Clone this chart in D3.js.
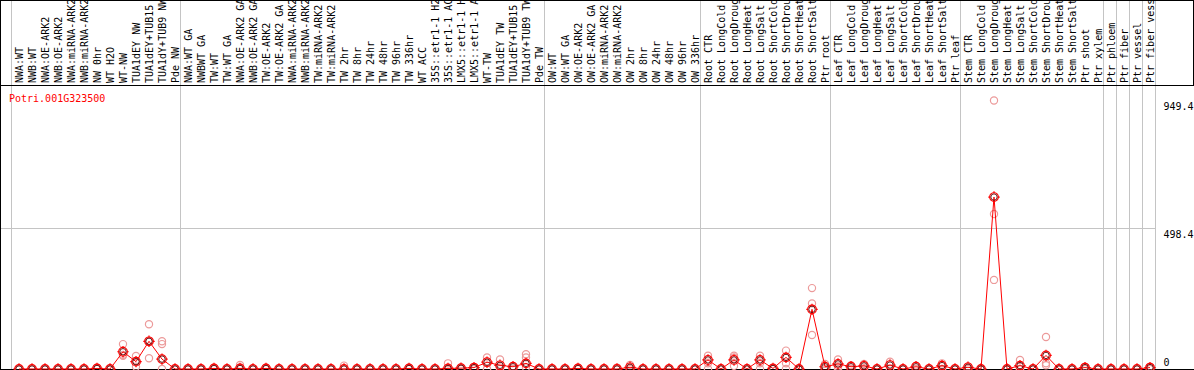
<!DOCTYPE html>
<html>
<head>
<meta charset="utf-8">
<script src="https://cdn.jsdelivr.net/npm/d3@7"></script>
<style>
  html, body { margin: 0; padding: 0; background: #fff; }
  svg { display: block; }
  text { font-family: "DejaVu Sans Mono", monospace; font-size: 10px; }
</style>
</head>
<body>
<script>
const categories = [
  "NWA:WT","NWB:WT","NWA:OE-ARK2","NWB:OE-ARK2","NWA:miRNA-ARK2","NWB:miRNA-ARK2","NW 0hr","WT H2O","WT-NW","TUA1dEY NW","TUA1dEY+TUB15 NW","TUA1dY+TUB9 NW","Pde NW",
  "NWA:WT GA","NWBWT GA","TW:WT","TW:WT GA","NWA:OE-ARK2 GA","NWB:OE-ARK2 GA","TW:OE-ARK2","TW:OE-ARK2 GA","NWA:miRNA-ARK2","NWB:miRNA-ARK2","TW:miRNA-ARK2","TW:miRNA-ARK2","TW 2hr","TW 8hr","TW 24hr","TW 48hr","TW 96hr","TW 336hr","WT ACC","35S::etr1-1 H2O","35S::etr1-1 ACC","LMX5::etr1-1 H2O","LMX5::etr1-1 ACC","WT-TW","TUA1dEY TW","TUA1dEY+TUB15 TW","TUA1dY+TUB9 TW","Pde TW",
  "OW:WT","OW:WT GA","OW:OE-ARK2","OW:OE-ARK2 GA","OW:miRNA-ARK2","OW:miRNA-ARK2","OW 2hr","OW 8hr","OW 24hr","OW 48hr","OW 96hr","OW 336hr",
  "Root CTR","Root LongCold","Root LongDrought","Root LongHeat","Root LongSalt","Root ShortCold","Root ShortDrought","Root ShortHeat","Root ShortSalt","Ptr root",
  "Leaf CTR","Leaf LongCold","Leaf LongDrought","Leaf LongHeat","Leaf LongSalt","Leaf ShortCold","Leaf ShortDrought","Leaf ShortHeat","Leaf ShortSalt","Ptr leaf",
  "Stem CTR","Stem LongCold","Stem LongDrought","Stem LongHeat","Stem LongSalt","Stem ShortCold","Stem ShortDrought","Stem ShortHeat","Stem ShortSalt","Ptr shoot","Ptr xylem",
  "Ptr phloem","Ptr fiber","Ptr vessel","Ptr fiber vessel"
];
// index where each group starts
const groupStarts = [0, 13, 41, 53, 63, 73, 84, 85, 86, 87, 88];

const geneName = "Potri.001G323500";

const mainValues = [
  0,0,0,0,0,0,2,0,61,26,98,35,0,
  0,0,2,0,2,0,2,0,0,0,0,0,0,0,0,0,0,2,0,0,2,3,5,24,13,8,20,0,
  0,0,2,0,0,0,6,0,0,0,0,0,
  32,0,32,0,32,2,41,0,211,8,
  18,8,11,0,14,0,8,0,12,0,
  6,0,608,0,12,0,48,0,0,5,0,
  0,0,0,5
];
const rep1 = [
  0,0,0,0,0,0,5,0,88,46,158,98,0,
  0,0,5,0,14,0,5,0,0,0,0,0,12,0,0,0,0,5,0,0,20,5,5,41,34,10,52,0,
  0,0,5,0,2,5,14,0,0,0,0,0,
  47,0,47,3,47,4,65,0,286,18,
  34,13,18,0,26,0,12,0,20,0,
  9,0,949.4,0,32,0,113,0,0,8,0,
  0,0,0,8
];
const rep2 = [
  0,0,0,0,0,0,2,0,47,8,38,88,0,
  0,0,0,0,5,0,0,0,0,0,0,0,0,0,0,0,0,0,0,0,0,0,0,0,5,0,41,0,
  0,0,0,0,0,0,0,0,0,0,0,0,
  20,0,41,0,20,0,20,0,232,0,
  8,0,3,0,0,0,0,0,0,0,
  0,0,548,0,0,0,20,0,0,0,0,
  0,0,0,0
];
const rep3 = [
  0,0,0,0,0,0,0,0,50,27,98,0,0,
  0,0,0,0,0,0,0,0,0,0,0,0,0,0,0,0,0,0,0,0,0,0,0,0,0,0,5,0,
  0,0,0,0,0,0,0,0,0,0,0,0,
  0,0,11,0,0,0,0,0,120,0,
  0,0,0,0,0,0,0,0,0,0,
  0,0,315,0,0,0,13,0,0,0,0,
  0,0,0,0
];
const axisTicks = [0, 498.4, 949.4];

const W = 1194, H = 370;
const svg = d3.select("body").append("svg").attr("width", W).attr("height", H);

const x = d3.scaleBand().domain(d3.range(categories.length)).range([11, 1155]).padding(0);
const cx = i => x(i) + x.bandwidth() / 2 + 1.5;
const y = d3.scaleLinear().domain([0, 949.4]).range([369, 100.5]);

const plotTop = 85, plotBottom = 369;

// horizontal gridline
svg.append("line").attr("x1", 0).attr("x2", x.range()[1]).attr("y1", Math.round(y(498.4)) + 0.5).attr("y2", Math.round(y(498.4)) + 0.5)
  .attr("stroke", "#c4c4c4");

// group separators
const sepX = d => (d >= categories.length ? x.range()[1] : x(d)) + 0.5;
svg.selectAll("line.sep").data(groupStarts).enter().append("line").attr("class", "sep")
  .attr("x1", sepX).attr("x2", sepX)
  .attr("y1", 0).attr("y2", plotBottom)
  .attr("stroke", "#c4c4c4");

// borders
const border = svg.append("g").attr("stroke", "#000").attr("stroke-width", 1);
border.append("line").attr("x1", 0).attr("x2", W).attr("y1", 0.5).attr("y2", 0.5);
border.append("line").attr("x1", 0).attr("x2", W).attr("y1", plotTop + 0.5).attr("y2", plotTop + 0.5);
border.append("line").attr("x1", 0).attr("x2", W).attr("y1", plotBottom + 0.5).attr("y2", plotBottom + 0.5);
border.append("line").attr("x1", 0.5).attr("x2", 0.5).attr("y1", 0).attr("y2", H);
border.append("line").attr("x1", W - 0.5).attr("x2", W - 0.5).attr("y1", 0).attr("y2", plotTop);

// column labels
svg.selectAll("text.cat").data(categories).enter().append("text").attr("class", "cat")
  .attr("transform", (d, i) => `translate(${cx(i) + 3.5},83) rotate(-90)`)
  .attr("fill", "#000")
  .text(d => d);

// replicate points
const reps = [rep1, rep2, rep3];
reps.forEach(r => {
  svg.append("g").selectAll("circle").data(r).enter().append("circle")
    .attr("cx", (d, i) => cx(i)).attr("cy", d => y(d)).attr("r", 3.6)
    .attr("fill", "none").attr("stroke", "#ec9a9a").attr("stroke-width", 1.2);
});

// main line
svg.append("path").datum(mainValues)
  .attr("d", d3.line().x((d, i) => cx(i)).y(d => y(d)))
  .attr("fill", "none").attr("stroke", "#ff0000").attr("stroke-width", 1);

// main markers
const mk = svg.append("g").selectAll("g").data(mainValues).enter().append("g")
  .attr("transform", (d, i) => `translate(${cx(i)},${y(d)})`);
mk.append("circle").attr("r", 4.3).attr("fill", "none").attr("stroke", "#ff0000").attr("stroke-width", 1.2);
mk.append("circle").attr("r", 3.2).attr("fill", "none").attr("stroke", "#5a0000").attr("stroke-width", 0.9);
mk.append("path").attr("d", "M0,-4V-5.7M0,4V5.7M-4,0H-5.7M4,0H5.7").attr("stroke", "#ff0000").attr("stroke-width", 1.2);

// gene name
svg.append("text").attr("x", 9).attr("y", 101.5).attr("fill", "#ff0000").text(geneName);

// right axis labels
svg.selectAll("text.ax").data(axisTicks).enter().append("text").attr("class", "ax")
  .attr("x", 1163.5)
  .attr("y", d => Math.min(y(d) + 9.5, 366))
  .attr("fill", "#000")
  .text(d => d);
</script>
</body>
</html>
